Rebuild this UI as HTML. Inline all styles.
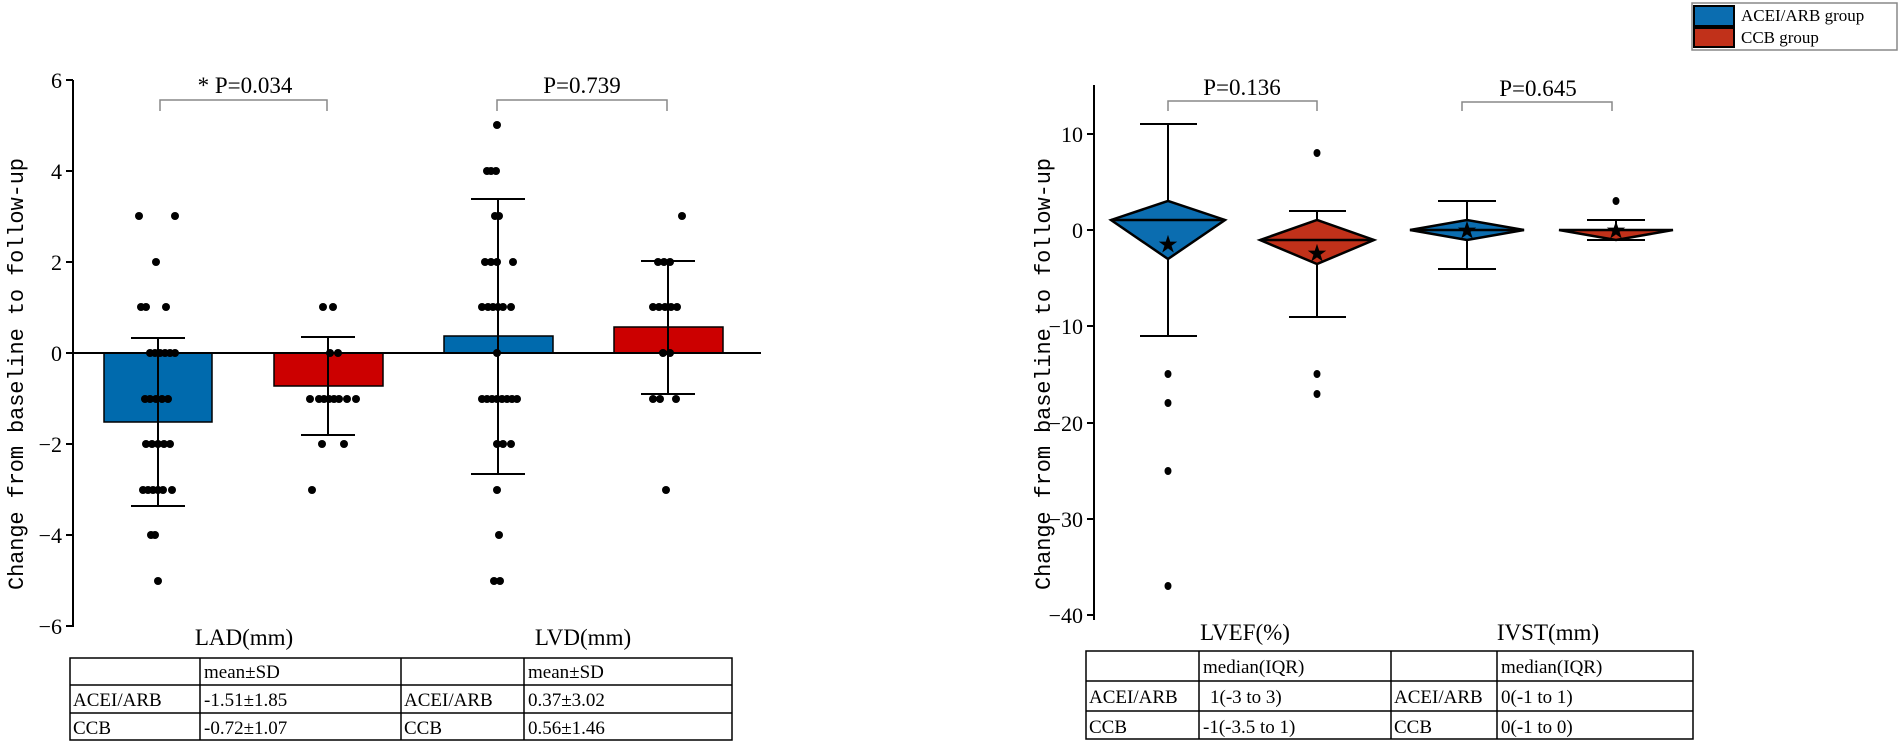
<!DOCTYPE html>
<html><head><meta charset="utf-8"><style>
html,body{margin:0;padding:0;background:#fff;}
svg{display:block;}
text{font-family:"Liberation Serif","Noto Serif CJK SC",serif;fill:#000;}
.m{font-family:"Liberation Mono",monospace;}
</style></head><body>
<svg width="1900" height="746" viewBox="0 0 1900 746" xmlns="http://www.w3.org/2000/svg">
<g stroke="#000" stroke-width="2">
<line x1="73" y1="80" x2="73" y2="627"/>
<line x1="66" y1="80" x2="73" y2="80"/><line x1="66" y1="171" x2="73" y2="171"/>
<line x1="66" y1="262" x2="73" y2="262"/><line x1="66" y1="353" x2="73" y2="353"/>
<line x1="66" y1="444" x2="73" y2="444"/><line x1="66" y1="535" x2="73" y2="535"/>
<line x1="66" y1="626" x2="73" y2="626"/>
</g>
<g font-size="22" text-anchor="end">
<text x="62" y="88">6</text><text x="62" y="179">4</text><text x="62" y="270">2</text>
<text x="62" y="361">0</text><text x="62" y="452">−2</text><text x="62" y="543">−4</text><text x="62" y="634">−6</text>
</g>
<text class="m" font-size="22" transform="translate(23,374) rotate(-90)" text-anchor="middle" textLength="432">Change from baseline to follow-up</text>
<g stroke="#000" stroke-width="1.5">
<rect x="104" y="353" width="108" height="69" fill="#006aad"/>
<rect x="274" y="353" width="109" height="33" fill="#cc0000"/>
<rect x="444" y="336" width="109" height="17" fill="#006aad"/>
<rect x="614" y="327" width="109" height="26" fill="#cc0000"/>
</g>
<line x1="73" y1="353" x2="761" y2="353" stroke="#000" stroke-width="2"/>
<g stroke="#000" stroke-width="2">
<line x1="158" y1="338" x2="158" y2="506"/><line x1="131" y1="338" x2="185" y2="338"/><line x1="131" y1="506" x2="185" y2="506"/>
<line x1="328" y1="337" x2="328" y2="435"/><line x1="301" y1="337" x2="355" y2="337"/><line x1="301" y1="435" x2="355" y2="435"/>
<line x1="498" y1="199" x2="498" y2="474"/><line x1="471" y1="199" x2="525" y2="199"/><line x1="471" y1="474" x2="525" y2="474"/>
<line x1="668" y1="261" x2="668" y2="394"/><line x1="641" y1="261" x2="695" y2="261"/><line x1="641" y1="394" x2="695" y2="394"/>
</g>
<g fill="#000">
<circle cx="139" cy="216" r="4"/><circle cx="175" cy="216" r="4"/><circle cx="156" cy="262" r="4"/>
<circle cx="141" cy="307" r="4"/><circle cx="146" cy="307" r="4"/><circle cx="166" cy="307" r="4"/>
<circle cx="150" cy="353" r="4"/><circle cx="155" cy="353" r="4"/><circle cx="160" cy="353" r="4"/><circle cx="165" cy="353" r="4"/><circle cx="170" cy="353" r="4"/><circle cx="175" cy="353" r="4"/>
<circle cx="145" cy="399" r="4"/><circle cx="150" cy="399" r="4"/><circle cx="156" cy="399" r="4"/><circle cx="162" cy="399" r="4"/><circle cx="168" cy="399" r="4"/>
<circle cx="146" cy="444" r="4"/><circle cx="152" cy="444" r="4"/><circle cx="158" cy="444" r="4"/><circle cx="164" cy="444" r="4"/><circle cx="170" cy="444" r="4"/>
<circle cx="143" cy="490" r="4"/><circle cx="148" cy="490" r="4"/><circle cx="153" cy="490" r="4"/><circle cx="158" cy="490" r="4"/><circle cx="163" cy="490" r="4"/><circle cx="172" cy="490" r="4"/>
<circle cx="151" cy="535" r="4"/><circle cx="155" cy="535" r="4"/><circle cx="158" cy="581" r="4"/>
<circle cx="323" cy="307" r="4"/><circle cx="333" cy="307" r="4"/><circle cx="330" cy="353" r="4"/><circle cx="338" cy="353" r="4"/>
<circle cx="310" cy="399" r="4"/><circle cx="319" cy="399" r="4"/><circle cx="324" cy="399" r="4"/><circle cx="329" cy="399" r="4"/><circle cx="334" cy="399" r="4"/><circle cx="339" cy="399" r="4"/><circle cx="347" cy="399" r="4"/><circle cx="356" cy="399" r="4"/>
<circle cx="322" cy="444" r="4"/><circle cx="344" cy="444" r="4"/><circle cx="312" cy="490" r="4"/>
<circle cx="497" cy="125" r="4"/><circle cx="487" cy="171" r="4"/><circle cx="491" cy="171" r="4"/><circle cx="496" cy="171" r="4"/>
<circle cx="495" cy="216" r="4"/><circle cx="499" cy="216" r="4"/>
<circle cx="485" cy="262" r="4"/><circle cx="491" cy="262" r="4"/><circle cx="497" cy="262" r="4"/><circle cx="513" cy="262" r="4"/>
<circle cx="482" cy="307" r="4"/><circle cx="488" cy="307" r="4"/><circle cx="493" cy="307" r="4"/><circle cx="498" cy="307" r="4"/><circle cx="503" cy="307" r="4"/><circle cx="511" cy="307" r="4"/>
<circle cx="497" cy="353" r="4"/>
<circle cx="482" cy="399" r="4"/><circle cx="487" cy="399" r="4"/><circle cx="492" cy="399" r="4"/><circle cx="497" cy="399" r="4"/><circle cx="502" cy="399" r="4"/><circle cx="507" cy="399" r="4"/><circle cx="512" cy="399" r="4"/><circle cx="517" cy="399" r="4"/>
<circle cx="497" cy="444" r="4"/><circle cx="503" cy="444" r="4"/><circle cx="511" cy="444" r="4"/>
<circle cx="497" cy="490" r="4"/><circle cx="499" cy="535" r="4"/><circle cx="494" cy="581" r="4"/><circle cx="500" cy="581" r="4"/>
<circle cx="682" cy="216" r="4"/><circle cx="658" cy="262" r="4"/><circle cx="664" cy="262" r="4"/><circle cx="670" cy="262" r="4"/>
<circle cx="653" cy="307" r="4"/><circle cx="659" cy="307" r="4"/><circle cx="665" cy="307" r="4"/><circle cx="671" cy="307" r="4"/><circle cx="677" cy="307" r="4"/>
<circle cx="663" cy="353" r="4"/><circle cx="670" cy="353" r="4"/>
<circle cx="653" cy="399" r="4"/><circle cx="660" cy="399" r="4"/><circle cx="676" cy="399" r="4"/><circle cx="666" cy="490" r="4"/>
</g>
<g stroke="#888" stroke-width="1.5" fill="none">
<polyline points="160,111 160,100 327,100 327,111"/>
<polyline points="497,111 497,100 667,100 667,111"/>
<polyline points="1168,111 1168,101 1317,101 1317,111"/>
<polyline points="1462,111 1462,102 1612,102 1612,111"/>
</g>
<g font-size="23" text-anchor="middle">
<text x="245" y="93">* P=0.034</text><text x="582" y="93">P=0.739</text>
<text x="1242" y="95">P=0.136</text><text x="1538" y="96">P=0.645</text>
</g>
<g font-size="23" text-anchor="middle">
<text x="244" y="645">LAD(mm)</text><text x="583" y="645">LVD(mm)</text>
<text x="1245" y="640">LVEF(%)</text><text x="1548" y="640">IVST(mm)</text>
</g>
<g stroke="#000" stroke-width="1.5" fill="none">
<rect x="70" y="658" width="662" height="82"/>
<line x1="70" y1="685" x2="732" y2="685"/><line x1="70" y1="713" x2="732" y2="713"/>
<line x1="200" y1="658" x2="200" y2="740"/><line x1="401" y1="658" x2="401" y2="740"/><line x1="524" y1="658" x2="524" y2="740"/>
<rect x="1086" y="651" width="607" height="88"/>
<line x1="1086" y1="681" x2="1693" y2="681"/><line x1="1086" y1="711" x2="1693" y2="711"/>
<line x1="1199" y1="651" x2="1199" y2="739"/><line x1="1391" y1="651" x2="1391" y2="739"/><line x1="1497" y1="651" x2="1497" y2="739"/>
</g>
<g font-size="19">
<text x="204" y="678">mean±SD</text><text x="528" y="678">mean±SD</text>
<text x="73" y="706">ACEI/ARB</text><text x="204" y="706">-1.51±1.85</text><text x="404" y="706">ACEI/ARB</text><text x="528" y="706">0.37±3.02</text>
<text x="73" y="734">CCB</text><text x="204" y="734">-0.72±1.07</text><text x="404" y="734">CCB</text><text x="528" y="734">0.56±1.46</text>
<text x="1203" y="673">median(IQR)</text><text x="1501" y="673">median(IQR)</text>
<text x="1089" y="703">ACEI/ARB</text><text x="1210" y="703">1(-3 to 3)</text><text x="1394" y="703">ACEI/ARB</text><text x="1501" y="703">0(-1 to 1)</text>
<text x="1089" y="733">CCB</text><text x="1203" y="733">-1(-3.5 to 1)</text><text x="1394" y="733">CCB</text><text x="1501" y="733">0(-1 to 0)</text>
</g>
<g stroke="#000" stroke-width="2">
<line x1="1094" y1="85" x2="1094" y2="620"/>
<line x1="1087" y1="134" x2="1094" y2="134"/><line x1="1087" y1="230" x2="1094" y2="230"/>
<line x1="1087" y1="326" x2="1094" y2="326"/><line x1="1087" y1="423" x2="1094" y2="423"/>
<line x1="1087" y1="519" x2="1094" y2="519"/><line x1="1087" y1="615" x2="1094" y2="615"/>
</g>
<g font-size="22" text-anchor="end">
<text x="1083" y="142">10</text><text x="1083" y="238">0</text><text x="1083" y="334">−10</text>
<text x="1083" y="431">−20</text><text x="1083" y="527">−30</text><text x="1083" y="623">−40</text>
</g>
<text class="m" font-size="22" transform="translate(1050,374) rotate(-90)" text-anchor="middle" textLength="432">Change from baseline to follow-up</text>
<g stroke="#000" stroke-width="2">
<line x1="1168" y1="124" x2="1168" y2="336"/><line x1="1140" y1="124" x2="1197" y2="124"/><line x1="1140" y1="336" x2="1197" y2="336"/>
<line x1="1317" y1="211" x2="1317" y2="317"/><line x1="1289" y1="211" x2="1346" y2="211"/><line x1="1289" y1="317" x2="1346" y2="317"/>
<line x1="1467" y1="201" x2="1467" y2="269"/><line x1="1438" y1="201" x2="1496" y2="201"/><line x1="1438" y1="269" x2="1496" y2="269"/>
<line x1="1616" y1="220" x2="1616" y2="240"/><line x1="1587" y1="220" x2="1645" y2="220"/><line x1="1587" y1="240" x2="1645" y2="240"/>
</g>
<g stroke="#000" stroke-width="2.5">
<polygon points="1111,220 1168,201 1225,220 1168,259" fill="#0b6db0"/>
<line x1="1111" y1="220" x2="1225" y2="220"/>
<polygon points="1260,240 1317,220 1374,240 1317,264" fill="#c1311a"/>
<line x1="1260" y1="240" x2="1374" y2="240"/>
<polygon points="1410,230 1467,220 1524,230 1467,240" fill="#0b6db0"/>
<line x1="1410" y1="230" x2="1524" y2="230"/>
<polygon points="1559,230 1673,230 1616,240" fill="#c1311a"/>
</g>
<g font-size="20" text-anchor="middle" font-family="DejaVu Sans">
<text x="1168" y="251">★</text><text x="1317" y="260">★</text><text x="1467" y="237">★</text><text x="1616" y="237">★</text>
</g>
<g fill="#000">
<ellipse cx="1168" cy="374" rx="3.5" ry="4"/><ellipse cx="1168" cy="403" rx="3.5" ry="4"/><ellipse cx="1168" cy="471" rx="3.5" ry="4"/><ellipse cx="1168" cy="586" rx="3.5" ry="4"/>
<ellipse cx="1317" cy="153" rx="3.5" ry="4"/><ellipse cx="1317" cy="374" rx="3.5" ry="4"/><ellipse cx="1317" cy="394" rx="3.5" ry="4"/>
<ellipse cx="1616" cy="201" rx="3.5" ry="4"/>
</g>
<rect x="1692" y="3" width="205" height="47" fill="#fff" stroke="#888" stroke-width="1.5"/>
<rect x="1694" y="6" width="40" height="20" fill="#0b6db0" stroke="#000" stroke-width="2"/>
<rect x="1694" y="28" width="40" height="19" fill="#c1311a" stroke="#000" stroke-width="2"/>
<g font-size="17"><text x="1741" y="21">ACEI/ARB group</text><text x="1741" y="43">CCB group</text></g>
</svg>
</body></html>
